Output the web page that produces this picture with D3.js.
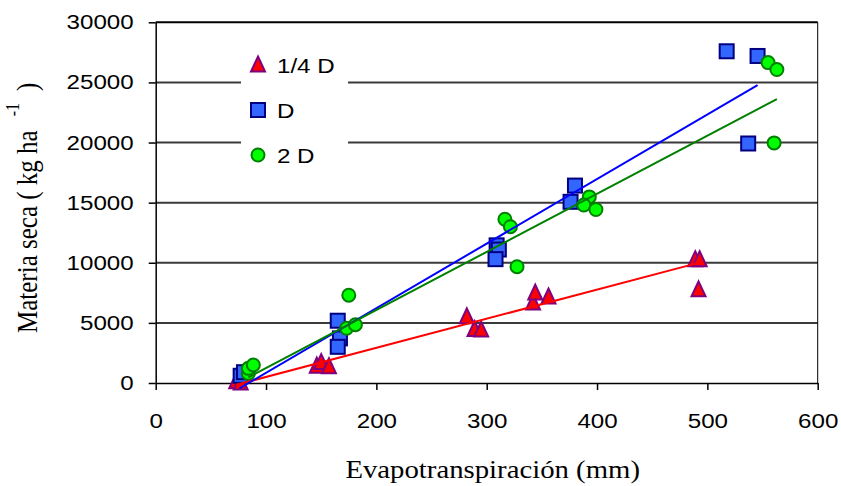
<!DOCTYPE html>
<html>
<head>
<meta charset="utf-8">
<script src="https://cdn.jsdelivr.net/npm/d3@7"></script>
<style>
  body { margin: 0; background: #fff; }
  svg { display: block; }
</style>
</head>
<body>
<svg id="chart" width="841" height="486"></svg>
<script>
// data: [ET mm, dry matter kg/ha]
var quarterD = [[73, 100], [77, 0], [146, 1400], [150, 1700], [157, 1350],
  [282, 5500], [289, 4450], [295, 4400], [342, 6650], [344, 7480], [356, 7150],
  [489, 10250], [493, 10250], [492, 7750]];
var fullD = [[77, 600], [80, 900], [165, 5180], [167, 3710], [165, 3010],
  [309, 11450], [311, 11100], [308, 10300], [376, 15070], [380, 16420],
  [517.5, 27590], [545.5, 27200], [537, 19920]];
var doubleD = [[84, 800], [84, 1220], [88.5, 1500], [175, 7300], [173, 4550],
  [181, 4850], [316.5, 13620], [321.5, 13000], [327.5, 9670],
  [393, 15480], [388, 14800], [399, 14430], [555, 26650], [563, 26070], [560.5, 19970]];

// trendline end points
var quarterTrend = [[73, -150], [491, 9970]];
var fullTrend = [[76, -440], [545.5, 24780]];
var doubleTrend = [[84, 470], [563, 23610]];

var xTicks = [0, 100, 200, 300, 400, 500, 600];
var yTicks = [0, 5000, 10000, 15000, 20000, 25000, 30000];
var legendLabels = ["1/4 D", "D", "2 D"];

var svg = d3.select("#chart");
var sx = 1.15; // text in the picture is a bit wide

var x = d3.scaleLinear().domain([0, 600]).range([155.7, 817.7]);
var y = d3.scaleLinear().domain([0, 30000]).range([383, 22.3]);

// gridlines
svg.append("g")
  .selectAll("line")
  .data(yTicks.filter(function (d) { return d > 0 && d < 30000; }))
  .enter().append("line")
  .attr("x1", x(0)).attr("x2", x(600))
  .attr("y1", function (d) { return y(d); })
  .attr("y2", function (d) { return y(d); })
  .attr("stroke", "#3a3a3a")
  .attr("stroke-width", 2);

// top and right border
svg.append("line")
  .attr("x1", x(0)).attr("x2", x(600)).attr("y1", y(30000)).attr("y2", y(30000))
  .attr("stroke", "#000").attr("stroke-width", 2);
svg.append("line")
  .attr("x1", x(600)).attr("x2", x(600)).attr("y1", y(30000)).attr("y2", y(0))
  .attr("stroke", "#000").attr("stroke-width", 1);

// axes
var yAxis = svg.append("g")
  .attr("transform", "translate(" + x(0) + ",0)")
  .call(d3.axisLeft(y).tickValues(yTicks).tickSize(7).tickSizeOuter(0).tickFormat(d3.format("d")));
var xAxis = svg.append("g")
  .attr("transform", "translate(0," + y(0) + ")")
  .call(d3.axisBottom(x).tickValues(xTicks).tickSize(7).tickSizeOuter(0).tickFormat(d3.format("d")));

[yAxis, xAxis].forEach(function (ax) {
  ax.select(".domain").attr("stroke", "#000").attr("stroke-width", 1.5);
  ax.selectAll(".tick line").attr("stroke", "#000").attr("stroke-width", 1.5);
  ax.selectAll(".tick text")
    .attr("fill", "#000")
    .style("font-family", "'Liberation Sans', Arial, sans-serif")
    .style("font-size", "21px");
});
yAxis.selectAll(".tick text")
  .attr("x", null).attr("dy", null)
  .attr("transform", "translate(-22,6.5) scale(" + sx + ",1)");
xAxis.selectAll(".tick text")
  .attr("y", null).attr("dy", null)
  .attr("transform", "translate(0,45) scale(" + sx + ",1)");

// axis titles
svg.append("text")
  .attr("transform", "translate(" + ((x(0) + x(600)) / 2 + 6) + ",478) scale(" + sx + ",1)")
  .attr("text-anchor", "middle")
  .style("font-family", "'Liberation Serif', 'Times New Roman', serif")
  .style("font-size", "25px")
  .text("Evapotranspiración (mm)");

var yTitle = svg.append("text")
  .attr("transform", "translate(37,333) scale(" + sx + ",1) rotate(-90)")
  .style("font-family", "'Liberation Serif', 'Times New Roman', serif")
  .style("font-size", "25px");
yTitle.append("tspan").text("Materia seca ( kg ha");
yTitle.append("tspan").attr("dx", 14).attr("dy", -16).style("font-size", "16px").text("-1");
yTitle.append("tspan").attr("dx", 12).attr("dy", 16).text(")");

// legend box hides the gridlines behind it
svg.append("rect")
  .attr("x", 241).attr("y", 36).attr("width", 107).attr("height", 140)
  .attr("fill", "#fff");

function triangle(sel) {
  return sel.append("path")
    .attr("d", "M0,-8.5L7,6.5L-7,6.5Z")
    .attr("fill", "#ff0000")
    .attr("stroke", "#800080")
    .attr("stroke-width", 2)
    .attr("stroke-linejoin", "miter");
}
function square(sel) {
  return sel.append("rect")
    .attr("x", -7).attr("y", -7).attr("width", 14).attr("height", 14)
    .attr("fill", "#3366ff")
    .attr("stroke", "#000080")
    .attr("stroke-width", 2);
}
function dot(sel) {
  return sel.append("circle")
    .attr("r", 6.5)
    .attr("fill", "#00ff00")
    .attr("stroke", "#008000")
    .attr("stroke-width", 2);
}

var series = [
  { data: quarterD, trend: quarterTrend, marker: triangle, line: "#ff0000" },
  { data: fullD, trend: fullTrend, marker: square, line: "#0000ff" },
  { data: doubleD, trend: doubleTrend, marker: dot, line: "#008000" }
];

series.forEach(function (s) {
  var pts = svg.append("g")
    .selectAll("g")
    .data(s.data)
    .enter().append("g")
    .attr("transform", function (d) { return "translate(" + x(d[0]) + "," + y(d[1]) + ")"; });
  s.marker(pts);
});

var line = d3.line()
  .x(function (d) { return x(d[0]); })
  .y(function (d) { return y(d[1]); });

series.forEach(function (s) {
  svg.append("path")
    .datum(s.trend)
    .attr("d", line)
    .attr("fill", "none")
    .attr("stroke", s.line)
    .attr("stroke-width", 2);
});

// legend
var legendY = [65, 110, 155];
series.forEach(function (s, i) {
  var g = svg.append("g").attr("transform", "translate(258," + legendY[i] + ")");
  s.marker(g);
  svg.append("text")
    .attr("transform", "translate(277," + (legendY[i] + 7.5) + ") scale(" + sx + ",1)")
    .style("font-family", "'Liberation Sans', Arial, sans-serif")
    .style("font-size", "21px")
    .text(legendLabels[i]);
});
</script>
</body>
</html>
